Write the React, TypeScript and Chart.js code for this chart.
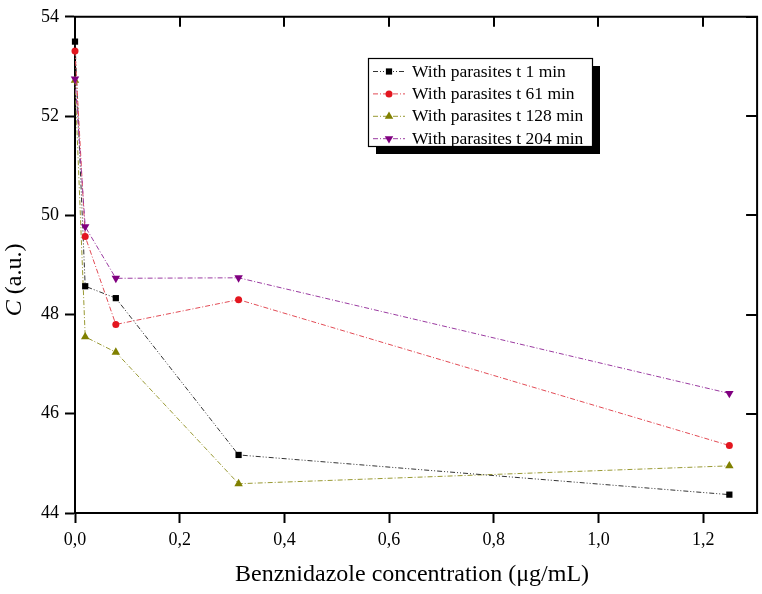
import React, { useEffect, useRef } from 'react';
import { Chart, registerables } from 'chart.js';

Chart.register(...registerables);

const concentrations = [0, 0.0195, 0.078, 0.3125, 1.25];
const seriesLabels = [
  'With parasites t 1 min',
  'With parasites t 61 min',
  'With parasites t 128 min',
  'With parasites t 204 min',
];
const t1 = [53.5, 48.57, 48.33, 45.17, 44.37];
const t61 = [53.31, 49.57, 47.8, 48.3, 45.36];
const t128 = [52.72, 47.55, 47.24, 44.59, 44.95];
const t204 = [52.75, 49.77, 48.73, 48.74, 46.41];
const xTicks = [0, 0.2, 0.4, 0.6, 0.8, 1.0, 1.2];
const yTicks = [44, 46, 48, 50, 52, 54];
const xTitle = 'Benznidazole concentration (\u03bcg/mL)';
const yTitleItalic = 'C';
const yTitleRest = ' (a.u.)';

const SERIF = "'Liberation Serif', 'Times New Roman', serif";

type Style = {
  marker: string;
  line: string;
  dash: number[];
  shape: 'rect' | 'circle' | 'triangle' | 'triangleDown';
  radius: number;
};

const styles: Style[] = [
  { marker: '#000000', line: '#333333', dash: [5, 2, 1, 2, 1, 2], shape: 'rect', radius: 4.4 },
  { marker: '#e3161f', line: '#e24b55', dash: [5, 2, 1, 2], shape: 'circle', radius: 3.5 },
  { marker: '#808000', line: '#999933', dash: [5, 2, 1, 2], shape: 'triangle', radius: 4.9 },
  { marker: '#800080', line: '#9a3aa0', dash: [5, 2, 1, 2], shape: 'triangleDown', radius: 4.9 },
];

const seriesValues = [t1, t61, t128, t204];

function drawMarker(ctx: CanvasRenderingContext2D, s: Style, cx: number, cy: number) {
  ctx.save();
  ctx.fillStyle = s.marker;
  ctx.setLineDash([]);
  const r = s.radius;
  ctx.beginPath();
  if (s.shape === 'rect') {
    const h = r / Math.SQRT2;
    ctx.rect(cx - h, cy - h, 2 * h, 2 * h);
  } else if (s.shape === 'circle') {
    ctx.arc(cx, cy, r, 0, Math.PI * 2);
  } else if (s.shape === 'triangle') {
    ctx.moveTo(cx, cy - r);
    ctx.lineTo(cx + r * 0.866, cy + r * 0.5);
    ctx.lineTo(cx - r * 0.866, cy + r * 0.5);
    ctx.closePath();
  } else {
    ctx.moveTo(cx, cy + r);
    ctx.lineTo(cx + r * 0.866, cy - r * 0.5);
    ctx.lineTo(cx - r * 0.866, cy - r * 0.5);
    ctx.closePath();
  }
  ctx.fill();
  ctx.restore();
}

const framePlugin = {
  id: 'framePlugin',
  afterDraw(chart: any) {
    const { ctx, chartArea } = chart;
    const { left, right, top, bottom } = chartArea;
    const xs = chart.scales.x;
    const ys = chart.scales.y;
    ctx.save();
    // top and right frame with inward ticks
    ctx.strokeStyle = '#000';
    ctx.lineWidth = 2;
    ctx.setLineDash([]);
    ctx.beginPath();
    ctx.moveTo(left - 1, top);
    ctx.lineTo(right, top);
    ctx.lineTo(right, bottom + 1);
    xTicks.forEach((v) => {
      const px = Math.round(xs.getPixelForValue(v));
      ctx.moveTo(px, top);
      ctx.lineTo(px, top + 10);
    });
    yTicks.forEach((v) => {
      const py = Math.round(ys.getPixelForValue(v));
      ctx.moveTo(right, py);
      ctx.lineTo(right - 11, py);
    });
    ctx.stroke();

    // x title
    ctx.fillStyle = '#000';
    ctx.font = `24px ${SERIF}`;
    ctx.textAlign = 'center';
    ctx.textBaseline = 'middle';
    ctx.fillText(xTitle, (left + right) / 2 - 4, bottom + 62);

    // y title (rotated, italic C)
    ctx.save();
    ctx.translate(15, (top + bottom) / 2 + 15);
    ctx.rotate(-Math.PI / 2);
    ctx.font = `italic 24px ${SERIF}`;
    const w1 = ctx.measureText(yTitleItalic).width;
    ctx.font = `24px ${SERIF}`;
    const w2 = ctx.measureText(yTitleRest).width;
    const start = -(w1 + w2) / 2;
    ctx.textAlign = 'left';
    ctx.font = `italic 24px ${SERIF}`;
    ctx.fillText(yTitleItalic, start, 0);
    ctx.font = `24px ${SERIF}`;
    ctx.fillText(yTitleRest, start + w1, 0);
    ctx.restore();

    // legend
    const lx = 368;
    const ly = 58;
    const lw = 224;
    const lh = 88;
    ctx.fillStyle = '#000';
    ctx.fillRect(lx + 8, ly + 8, lw, lh);
    ctx.fillStyle = '#fff';
    ctx.fillRect(lx, ly, lw, lh);
    ctx.strokeStyle = '#000';
    ctx.lineWidth = 1.2;
    ctx.strokeRect(lx + 0.5, ly + 0.5, lw, lh);
    seriesLabels.forEach((label, i) => {
      const s = styles[i];
      const cy = ly + 13 + i * 22.4;
      ctx.strokeStyle = s.line;
      ctx.lineWidth = 1;
      ctx.setLineDash(s.dash);
      ctx.beginPath();
      ctx.moveTo(lx + 5, cy + 0.5);
      ctx.lineTo(lx + 37, cy + 0.5);
      ctx.stroke();
      ctx.setLineDash([]);
      drawMarker(ctx, s, lx + 21, cy + 0.5);
      ctx.fillStyle = '#000';
      ctx.font = `17.5px ${SERIF}`;
      ctx.textAlign = 'left';
      ctx.textBaseline = 'middle';
      ctx.fillText(label, lx + 44, cy + 1);
    });
    ctx.restore();
  },
};

export default function App() {
  const canvasRef = useRef<HTMLCanvasElement | null>(null);

  useEffect(() => {
    const canvas = canvasRef.current;
    if (!canvas) return;
    const datasets = seriesValues.map((vals, i) => {
      const s = styles[i];
      const pointStyle = s.shape === 'rect' ? 'rect' : s.shape === 'circle' ? 'circle' : 'triangle';
      return {
        label: seriesLabels[i],
        data: vals.map((v, j) => ({ x: concentrations[j], y: v })),
        showLine: true,
        borderColor: s.line,
        borderWidth: 1,
        borderDash: s.dash,
        backgroundColor: s.marker,
        pointBackgroundColor: s.marker,
        pointBorderColor: s.marker,
        pointBorderWidth: 0,
        pointStyle,
        pointRotation: s.shape === 'triangleDown' ? 180 : 0,
        pointRadius: s.radius,
        pointHoverRadius: s.radius,
        tension: 0,
        clip: false as any,
        order: [2, 1, 3, 0][i],
      };
    });

    const chart = new Chart(canvas, {
      type: 'scatter',
      data: { datasets },
      options: {
        responsive: false,
        animation: false,
        devicePixelRatio: 1,
        layout: { padding: { top: 10, right: 3, left: 0, bottom: 0 } },
        plugins: {
          legend: { display: false },
          tooltip: { enabled: false },
          title: { display: false },
        },
        scales: {
          x: {
            type: 'linear',
            min: 0,
            max: 1.303,
            afterBuildTicks: (scale: any) => {
              scale.ticks = xTicks.map((v) => ({ value: v }));
            },
            afterFit: (scale: any) => {
              scale.height = 81;
            },
            ticks: {
              color: '#000',
              font: { family: SERIF, size: 18 },
              padding: 6,
              maxRotation: 0,
              callback: (v: any) => Number(v).toFixed(1).replace('.', ','),
            },
            grid: {
              display: true,
              drawOnChartArea: false,
              drawTicks: true,
              tickLength: 10,
              tickWidth: 2,
              tickColor: '#000',
            },
            border: { display: true, color: '#000', width: 2 },
          },
          y: {
            type: 'linear',
            min: 44,
            max: 54,
            afterBuildTicks: (scale: any) => {
              scale.ticks = yTicks.map((v) => ({ value: v }));
            },
            afterFit: (scale: any) => {
              scale.width = 75;
            },
            ticks: {
              color: '#000',
              font: { family: SERIF, size: 18 },
              padding: 6,
              callback: (v: any) => String(v),
            },
            grid: {
              display: true,
              drawOnChartArea: false,
              drawTicks: true,
              tickLength: 10,
              tickWidth: 2,
              tickColor: '#000',
            },
            border: { display: true, color: '#000', width: 2 },
          },
        },
      },
      plugins: [framePlugin],
    });
    return () => chart.destroy();
  }, []);

  return (
    <div style={{ position: 'absolute', left: 0, top: 0, width: 762, height: 594, background: '#fff' }}>
      <canvas ref={canvasRef} width={762} height={594} />
    </div>
  );
}
